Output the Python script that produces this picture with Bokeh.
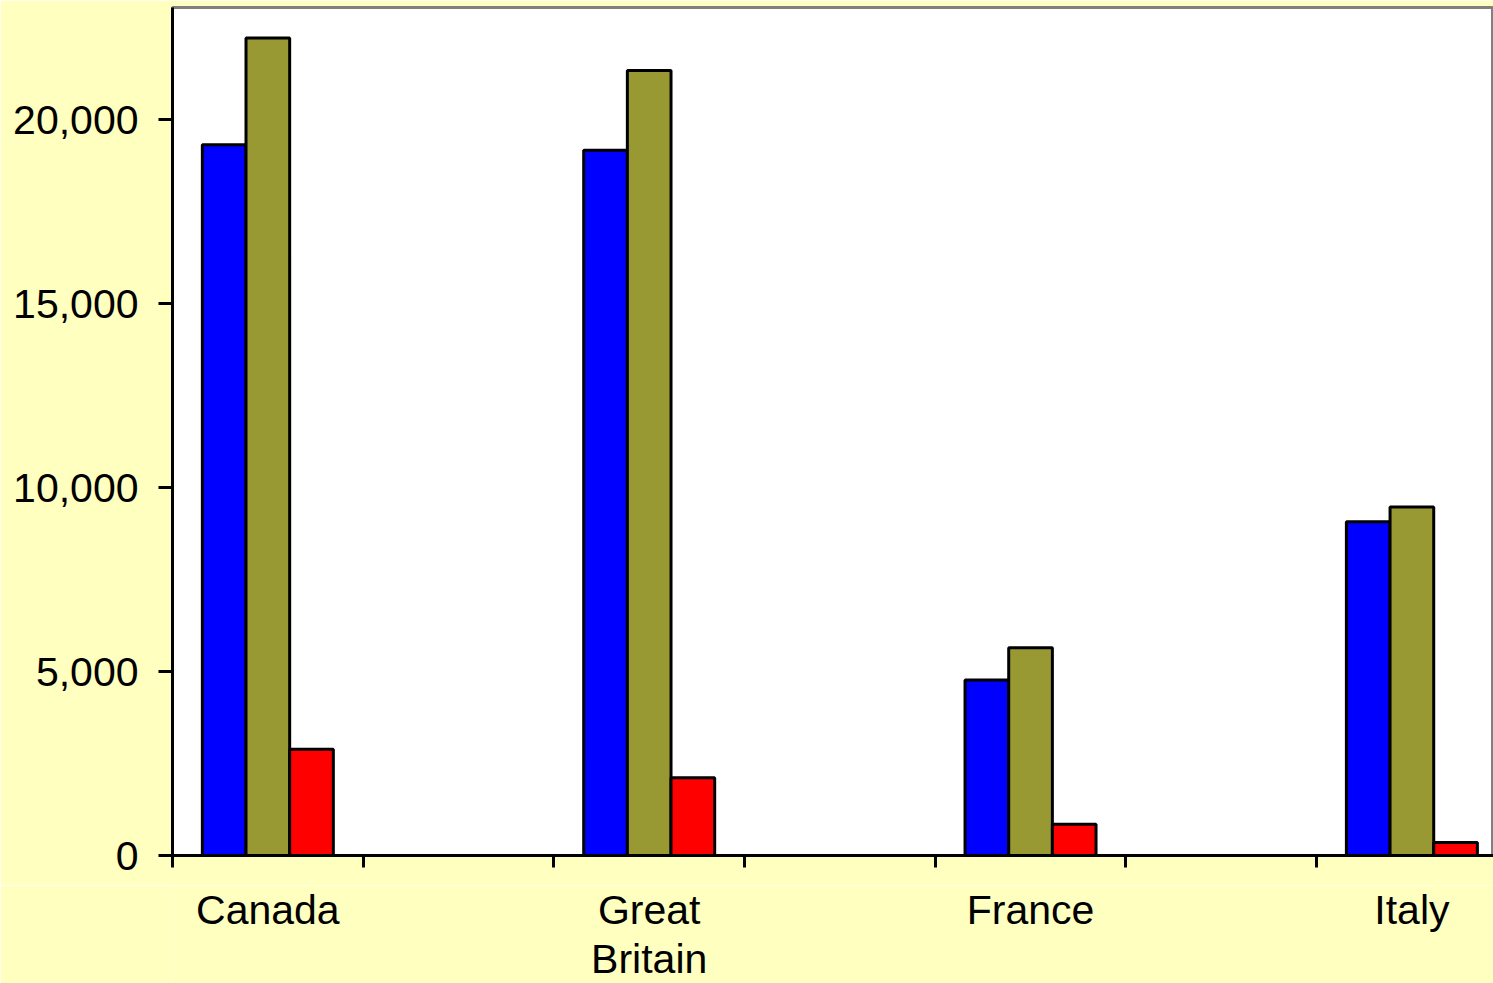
from bokeh.plotting import figure
from bokeh.layouts import column
from bokeh.models import Range1d, FixedTicker, NumeralTickFormatter, ColumnDataSource
from bokeh.core.properties import value
from bokeh.embed import file_html
from bokeh.resources import INLINE

countries = ["Canada", "Great\nBritain", "France", "Italy"]
series_blue = [19320, 19170, 4770, 9070]
series_olive = [22220, 21340, 5650, 9470]
series_red = [2890, 2110, 850, 350]
y_ticks = [0, 5000, 10000, 15000, 20000]

slot_centers = [0.5, 2.5, 4.5, 6.5]
bar_w = 0.229
BG = "#FFFFC0"
font = "Liberation Sans"

xr = Range1d(0, 6.928)
p = figure(width=1493, height=885, output_backend="svg", toolbar_location=None,
           x_range=xr, y_range=Range1d(0, 23050),
           min_border_left=172, min_border_right=0, min_border_top=7, min_border_bottom=30)
p.border_fill_color = BG
p.background_fill_color = "white"
p.outline_line_color = "#808080"
p.outline_line_width = 3
p.grid.visible = False

colors = ["#0000FF", "#999933", "#FF0000"]
for i, (vals, col) in enumerate(zip([series_blue, series_olive, series_red], colors)):
    xs = [c + (i - 1) * bar_w for c in slot_centers]
    src = ColumnDataSource(dict(x=xs, top=vals))
    p.vbar(x="x", top="top", bottom=0, width=bar_w, source=src,
           fill_color=col, line_color="black", line_width=3)

xa = p.xaxis[0]
xa.ticker = FixedTicker(ticks=slot_centers, minor_ticks=list(range(0, 8)))
xa.major_label_overrides = {c: "" for c in slot_centers}
xa.major_tick_out = 0
xa.major_tick_in = 0
xa.minor_tick_out = 12
xa.minor_tick_in = 0
xa.minor_tick_line_width = 3
xa.minor_tick_line_color = "black"
xa.axis_line_width = 3
xa.axis_line_color = "black"
xa.major_label_text_font_size = "1px"
xa.major_label_standoff = 0

ya = p.yaxis[0]
ya.ticker = FixedTicker(ticks=y_ticks, minor_ticks=[])
ya.formatter = NumeralTickFormatter(format="0,0")
ya.major_tick_out = 14
ya.major_tick_in = 0
ya.major_tick_line_width = 3
ya.major_tick_line_color = "black"
ya.minor_tick_out = 0
ya.axis_line_width = 3
ya.axis_line_color = "black"
ya.major_label_text_font = font
ya.major_label_text_font_size = "41px"
ya.major_label_text_color = "black"
ya.major_label_standoff = 20

# category label strip, sharing the x range
q = figure(width=1493, height=98, output_backend="svg", toolbar_location=None,
           x_range=xr, y_range=Range1d(0, 98),
           min_border_left=172, min_border_right=0, min_border_top=0, min_border_bottom=0,
           x_axis_location=None, y_axis_location=None)
q.border_fill_color = BG
q.background_fill_color = BG
q.outline_line_color = None
q.grid.visible = False
q.text(x=slot_centers, y=[97] * len(countries), text=countries,
       text_align="center", text_baseline="top", text_font=value(font),
       text_font_size="41px", text_color="black", text_line_height=1.08)

layout = column(p, q, spacing=0)
open("out.html", "w").write(file_html(layout, INLINE))
